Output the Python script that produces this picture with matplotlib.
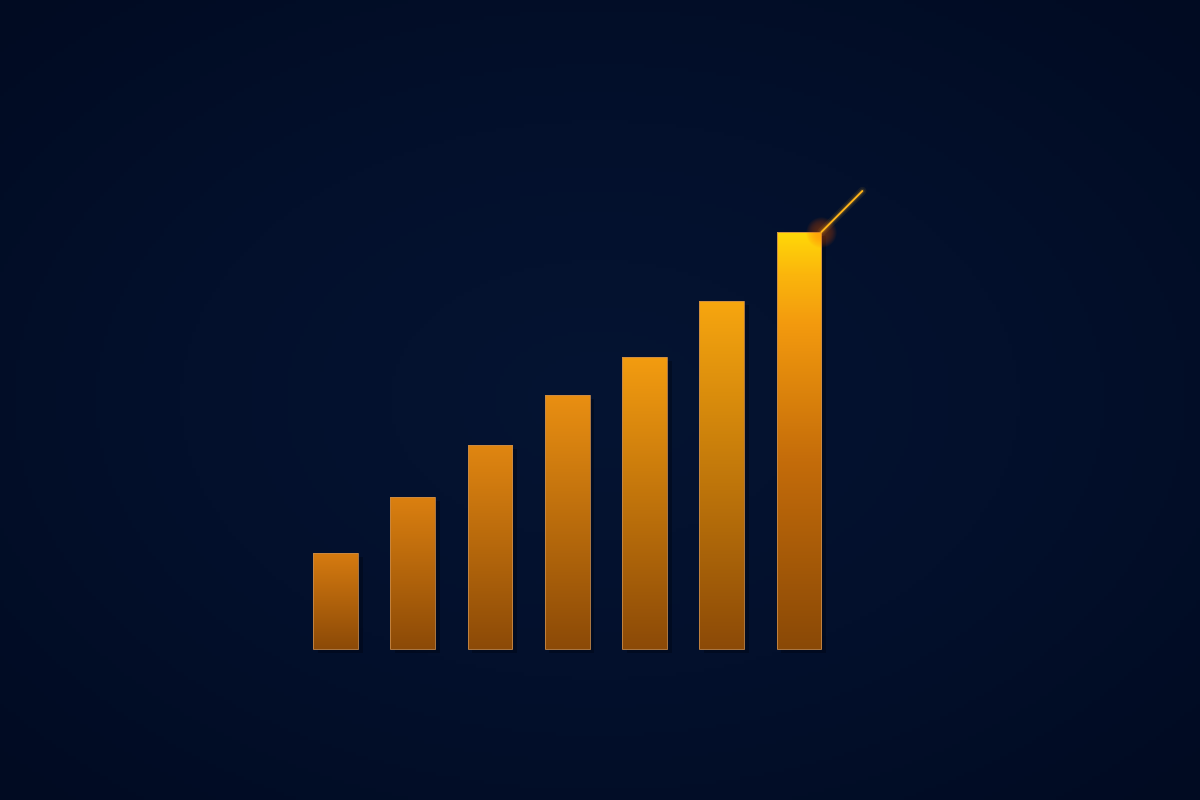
import numpy as np
import matplotlib
matplotlib.use("Agg")
import matplotlib.pyplot as plt
from matplotlib.colors import LinearSegmentedColormap

# bar heights (arbitrary units)
labels = ["1", "2", "3", "4", "5", "6", "7"]
values = [96, 152, 204, 254, 292, 348, 417]
top_colors = ["#d67b10", "#db8010", "#e08611", "#e98f12", "#f39c10", "#f7a60f", "#ffd808"]
trend_end = [6.82, 458]  # tip of the little trend line after the last bar

bg = "#020f2a"
bar_w = 0.58

fig = plt.figure(figsize=(12, 8), dpi=100)
fig.patch.set_facecolor(bg)
ax = fig.add_axes([0, 0, 1, 1])
ax.set_facecolor(bg)
ax.set_xlim(-4.343, 11.191)
ax.set_ylim(-151, 649)
ax.axis("off")

# soft radial background
gx, gy = np.meshgrid(np.linspace(-1, 1, 300), np.linspace(-1, 1, 200))
r = np.sqrt(gx**2 + gy**2)
bgmap = LinearSegmentedColormap.from_list("bg", ["#051432", "#03102c", "#010b22"])
ax.imshow(r, extent=[-4.343, 11.191, -151, 649], cmap=bgmap, aspect="auto",
          zorder=0, vmin=0, vmax=1.4)

grad = np.linspace(0, 1, 256).reshape(-1, 1)
x = np.arange(len(values))

# shadows
ax.bar(x + 0.06, values, width=bar_w, bottom=-4, color="#000614", alpha=0.45, zorder=1)
bars = ax.bar(x, values, width=bar_w, color="none", edgecolor="#c98a48",
              linewidth=0.6, zorder=3)
for i, b in enumerate(bars):
    if i == len(bars) - 1:
        stops = [(0.0, "#8a4906"), (0.45, "#c46c0a"), (0.78, "#f39a0e"),
                 (0.9, "#fbb60c"), (1.0, top_colors[i])]
    else:
        stops = [(0.0, "#8c4a07"), (1.0, top_colors[i])]
    cmap = LinearSegmentedColormap.from_list("bar%d" % i, stops)
    im = ax.imshow(grad, extent=[b.get_x(), b.get_x() + b.get_width(), 0, values[i]],
                   origin="lower", cmap=cmap, aspect="auto", zorder=2,
                   vmin=0, vmax=1)
    im.set_clip_path(b)

# glow at the top of the last bar (many faint layers so it stays smooth)
tx = x[-1] + bar_w / 2
ty = values[-1]
for s in np.linspace(500, 10, 25):
    ax.scatter([tx], [ty], s=s, color="#ff6a10", alpha=0.018, linewidths=0, zorder=4)

# trend line
for lw, a in [(6, 0.08), (3.5, 0.15), (1.4, 1.0)]:
    ax.plot([tx, trend_end[0]], [ty, trend_end[1]], color="#ffb41a", lw=lw,
            alpha=a, solid_capstyle="round", zorder=5)

fig.savefig("out.png", dpi=100, facecolor=bg)
